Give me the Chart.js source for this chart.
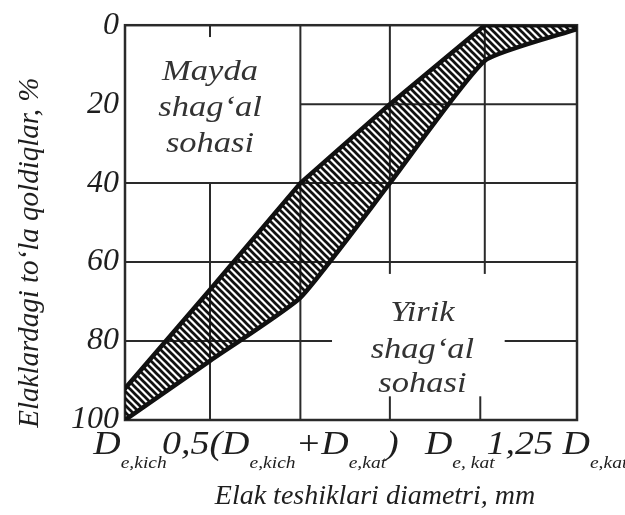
<!DOCTYPE html>
<html>
<head>
<meta charset="utf-8">
<script src="https://cdn.jsdelivr.net/npm/chart.js@4/dist/chart.umd.min.js"></script>
<style>
  html, body { margin: 0; padding: 0; background: #fff; }
  #wrap { width: 625px; height: 515px; position: relative; }
</style>
</head>
<body>
<div id="wrap"><canvas id="grading"></canvas></div>
<script>
// ============================================================
// DATA
// ============================================================
// sieve positions along x (0 = D_e,kich ... 5 = 1,25 D_e,kat)
const sievePos = [0, 0.94, 1.94, 2.93, 3.98, 5];
// fine gravel limit (upper boundary of the band), residue %
const fineLimit = [92, 67, 40, 20, 0, 0];
// coarse gravel limit (lower boundary of the band), residue %
const coarseLimit = [100, 85, 69, 40, 9, 1];

const yTicks = [0, 20, 40, 60, 80, 100];

// x tick labels: [text, isSubscript]
const xTickAt = [0, 1.94, 3.98, 5];
const xTickLabels = [
  [['D', 0], ['e,kich', 1]],
  [['0,5(D', 0], ['e,kich', 1], ['+D', 0], ['e,kat', 1], [')', 0]],
  [['D', 0], ['e, kat', 1]],
  [['1,25 D', 0], ['e,kat', 1]]
];
const xTitle = 'Elak teshiklari diametri, mm';
const yTitle = 'Elaklardagi to‘la qoldiqlar, %';

const zoneFine = { x: 0.94, y: [12, 21, 30], lines: ['Mayda', 'shag‘al', 'sohasi'] };
const zoneCoarse = { x: 3.29, y: [73, 82.3, 91], lines: ['Yirik', 'shag‘al', 'sohasi'] };

// partial grid segments, in data units: [x1, y1, x2, y2]
const gridSegments = [
  [0.94, 0, 0.94, 3], [0.94, 40, 0.94, 100],
  [1.94, 0, 1.94, 100],
  [2.93, 0, 2.93, 63], [2.93, 94, 2.93, 100],
  [3.98, 0, 3.98, 63], [3.93, 94, 3.93, 100],
  [1.94, 20, 5, 20],
  [0, 40, 5, 40],
  [0, 60, 5, 60],
  [0, 80, 2.29, 80], [4.2, 80, 5, 80]
];

// ============================================================
// HELPERS
// ============================================================
const SERIF = '"Liberation Serif", "Times New Roman", serif';
const INK = '#1e1e1e';

function hatchPattern() {
  const s = 7;
  const c = document.createElement('canvas');
  c.width = s; c.height = s;
  const g = c.getContext('2d');
  g.strokeStyle = '#111';
  g.lineWidth = 2.7;
  for (let k = -1; k <= 1; k++) {
    g.beginPath();
    g.moveTo(k * s - 1, -1);
    g.lineTo(k * s + s + 1, s + 1);
    g.stroke();
  }
  return g.createPattern(c, 'repeat');
}

function drawRich(ctx, parts, cx, baseY, size, stretch) {
  const main = `italic ${size}px ${SERIF}`;
  const sub = `italic ${Math.round(size * 0.5)}px ${SERIF}`;
  let w = 0;
  parts.forEach(([t, s]) => { ctx.font = s ? sub : main; w += ctx.measureText(t).width; });
  ctx.save();
  ctx.translate(cx, baseY);
  ctx.scale(stretch, 1);
  let x = -w / 2;
  ctx.textAlign = 'left';
  ctx.textBaseline = 'alphabetic';
  parts.forEach(([t, s]) => {
    ctx.font = s ? sub : main;
    ctx.fillText(t, x, s ? 14 : 0);
    x += ctx.measureText(t).width;
  });
  ctx.restore();
}

function drawStretched(ctx, text, cx, cy, size, stretch, angle) {
  ctx.save();
  ctx.translate(cx, cy);
  if (angle) ctx.rotate(angle);
  ctx.scale(stretch, 1);
  ctx.font = `italic ${size}px ${SERIF}`;
  ctx.textAlign = 'center';
  ctx.textBaseline = 'middle';
  ctx.fillText(text, 0, 0);
  ctx.restore();
}

// grid, frame, zone captions, tick labels and axis titles
const sketchPlugin = {
  id: 'sketch',
  beforeDatasetsDraw(chart) {
    const { ctx, chartArea: a, scales: { x, y } } = chart;
    ctx.save();
    ctx.strokeStyle = '#2a2a2a';
    ctx.lineWidth = 2;
    gridSegments.forEach(([x1, y1, x2, y2]) => {
      ctx.beginPath();
      ctx.moveTo(x.getPixelForValue(x1), y.getPixelForValue(y1));
      ctx.lineTo(x.getPixelForValue(x2), y.getPixelForValue(y2));
      ctx.stroke();
    });
    ctx.lineWidth = 2.5;
    ctx.strokeRect(a.left, a.top, a.right - a.left, a.bottom - a.top);
    ctx.restore();
  },
  afterDraw(chart) {
    const { ctx, chartArea: a, scales: { x, y } } = chart;
    ctx.save();
    ctx.fillStyle = '#333';
    [zoneFine, zoneCoarse].forEach(z => {
      z.lines.forEach((t, i) => drawStretched(ctx, t, x.getPixelForValue(z.x), y.getPixelForValue(z.y[i]), 30, 1.15));
    });
    ctx.fillStyle = INK;
    const shift = [5, -20, -25, -20];
    xTickLabels.forEach((parts, i) => {
      drawRich(ctx, parts, x.getPixelForValue(xTickAt[i]) + shift[i], a.bottom + 34, 33, 1.15);
    });
    drawStretched(ctx, xTitle, (a.left + a.right) / 2 + 24, a.bottom + 77, 28, 1.0);
    drawStretched(ctx, yTitle, 30, (a.top + a.bottom) / 2 + 30, 29, 1.0, -Math.PI / 2);
    ctx.restore();
  }
};

// ============================================================
// CHART
// ============================================================
new Chart(document.getElementById('grading'), {
  type: 'line',
  data: {
    datasets: [
      {
        label: 'Mayda chegara',
        data: sievePos.map((p, i) => ({ x: p, y: fineLimit[i] })),
        borderColor: '#111', borderWidth: 4.5, pointRadius: 0, tension: 0,
        borderJoinStyle: 'round', borderCapStyle: 'round',
        backgroundColor: hatchPattern(), fill: '+1'
      },
      {
        label: 'Yirik chegara',
        data: sievePos.map((p, i) => ({ x: p, y: coarseLimit[i] })),
        borderColor: '#111', borderWidth: 4.5, pointRadius: 0, tension: 0.15,
        borderJoinStyle: 'round', borderCapStyle: 'round',
        fill: false
      }
    ]
  },
  options: {
    responsive: true, maintainAspectRatio: false, animation: false,
    layout: { padding: { top: 25, right: 48, bottom: 0, left: 0 } },
    plugins: { legend: { display: false }, tooltip: { enabled: false } },
    scales: {
      x: {
        type: 'linear', min: 0, max: 5,
        grid: { display: false }, border: { display: false },
        ticks: { display: false },
        afterFit: s => { s.height = 95; }
      },
      y: {
        type: 'linear', min: 0, max: 100, reverse: true,
        grid: { display: false, drawTicks: false }, border: { display: false },
        afterBuildTicks: s => { s.ticks = yTicks.map(v => ({ value: v })); },
        ticks: { color: INK, padding: 6, font: { family: SERIF, style: 'italic', size: 32 } },
        afterFit: s => { s.width = 125; }
      }
    }
  },
  plugins: [sketchPlugin]
});
</script>
</body>
</html>
